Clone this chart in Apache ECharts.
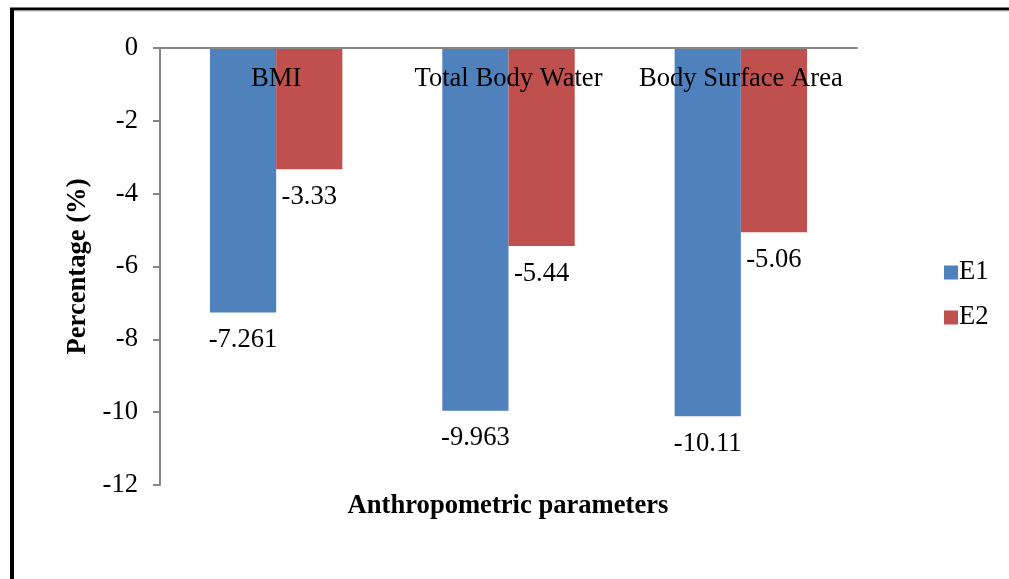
<!DOCTYPE html>
<html>
<head>
<meta charset="utf-8">
<script src="https://cdn.jsdelivr.net/npm/echarts@6/dist/echarts.min.js"></script>
<style>
html, body { margin: 0; padding: 0; background: #fff; }
#chart { width: 1009px; height: 579px; }
</style>
</head>
<body>
<div id="chart"></div>
<script>
// Anthropometric parameter change (%) for two groups
const categories = ['BMI', 'Total Body Water', 'Body Surface Area'];
const e1Values = [-7.261, -9.963, -10.11];
const e2Values = [-3.33, -5.44, -5.06];
const yTicks = { min: -12, max: 0, interval: 2 };

const serif = '"Liberation Serif", "DejaVu Serif", serif';
const fs = 26.6;

const chart = echarts.init(document.getElementById('chart'), null, { renderer: 'canvas' });

const labelStyle = {
  show: true,
  position: 'bottom',
  distance: 14,
  color: '#000',
  fontFamily: serif,
  fontSize: fs,
  formatter: p => String(p.value)
};

chart.setOption({
  animation: false,
  backgroundColor: '#fff',
  grid: { left: 160, right: 152, top: 48, bottom: 94, containLabel: false },
  legend: {
    orient: 'vertical',
    left: 939,
    top: 254,
    itemWidth: 14,
    itemHeight: 14,
    itemGap: 18,
    icon: 'rect',
    textStyle: { fontFamily: serif, fontSize: fs, color: '#000', padding: [0, 0, 0, -4] },
    data: ['E1', 'E2']
  },
  xAxis: {
    type: 'category',
    position: 'top',
    data: categories,
    z: 10,
    axisLine: { lineStyle: { color: '#868686', width: 2 } },
    axisTick: { show: false },
    axisLabel: {
      interval: 0,
      hideOverlap: false,
      inside: true,
      margin: 18,
      color: '#000',
      fontFamily: serif,
      fontSize: fs
    },
    splitLine: { show: false }
  },
  yAxis: {
    type: 'value',
    min: yTicks.min,
    max: yTicks.max,
    interval: yTicks.interval,
    name: 'Percentage (%)',
    nameLocation: 'middle',
    nameGap: 56,
    nameTextStyle: { fontFamily: serif, fontSize: fs, fontWeight: 'bold', color: '#000' },
    axisLine: { show: true, lineStyle: { color: '#868686', width: 2 } },
    axisTick: { show: true, length: 7, lineStyle: { color: '#868686', width: 2 } },
    axisLabel: { margin: 22, color: '#000', fontFamily: serif, fontSize: fs },
    splitLine: { show: false }
  },
  series: [
    {
      name: 'E1',
      type: 'bar',
      data: e1Values,
      barGap: '0%',
      barCategoryGap: '43%',
      itemStyle: { color: '#4F81BD' },
      label: labelStyle
    },
    {
      name: 'E2',
      type: 'bar',
      data: e2Values,
      itemStyle: { color: '#C0504D' },
      label: labelStyle
    }
  ],
  graphic: [
    {
      type: 'text',
      x: 508,
      y: 506,
      style: {
        text: 'Anthropometric parameters',
        fontFamily: serif,
        fontSize: fs,
        fontWeight: 'bold',
        fill: '#000',
        align: 'center',
        verticalAlign: 'middle'
      }
    },
    // page frame: left and top rules
    { type: 'line', shape: { x1: 12, y1: 8, x2: 12, y2: 579 }, style: { stroke: '#000', lineWidth: 4 } },
    { type: 'line', shape: { x1: 10, y1: 9, x2: 1009, y2: 9 }, style: { stroke: '#000', lineWidth: 3 } },
    { type: 'line', shape: { x1: 14, y1: 11, x2: 1009, y2: 11 }, style: { stroke: '#bbb', lineWidth: 1 } }
  ]
});
</script>
</body>
</html>
